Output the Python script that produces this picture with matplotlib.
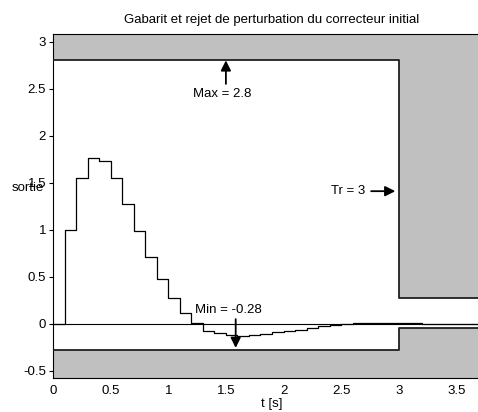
import matplotlib.pyplot as plt
import numpy as np

plt.rcParams['font.family'] = ['Liberation Sans', 'DejaVu Sans']

# sampled response (zero-order hold, Ts = 0.1 s)
t = np.round(np.arange(0, 3.9, 0.1), 2)
y = [0.0, 1.0, 1.55, 1.76, 1.73, 1.55, 1.27, 0.99, 0.71, 0.48,
     0.28, 0.12, 0.01, -0.08, -0.10, -0.12, -0.13, -0.12, -0.105, -0.09,
     -0.075, -0.06, -0.04, -0.02, -0.01, 0.0, 0.01, 0.01, 0.01, 0.01,
     0.01, 0.01, 0.0, 0.0, 0.0, 0.0, 0.0, 0.0, 0.0]

# template (gabarit)
t_r = 3.0
y_max = 2.8
y_min = -0.28
y_up_after = 0.28
y_low_after = -0.04

x_lim = (0, 3.8)
y_lim = (-0.575, 3.08)

fs = 9.5

fig = plt.figure(figsize=(4.78, 4.12), dpi=100)
ax = fig.add_axes([53 / 478, 1 - 378 / 412, (491 - 53) / 478, (378 - 34) / 412])
ax.set_xlim(*x_lim)
ax.set_ylim(*y_lim)

gray = '#c0c0c0'
upper_x = [0, t_r, t_r, x_lim[1]]
upper_y = [y_max, y_max, y_up_after, y_up_after]
lower_y = [y_min, y_min, y_low_after, y_low_after]
ax.fill_between(upper_x, upper_y, y_lim[1], color=gray, lw=0, zorder=1)
ax.fill_between(upper_x, lower_y, y_lim[0], color=gray, lw=0, zorder=1)
ax.plot(upper_x, upper_y, color='#202020', lw=1.3, zorder=3)
ax.plot(upper_x, lower_y, color='#202020', lw=1.3, zorder=3)

ax.axhline(0, color='black', lw=0.8, zorder=2)
ax.step(t, y, where='post', color='black', lw=0.9, zorder=4)

arrow = dict(arrowstyle='-|>', color='black', lw=1.3, mutation_scale=15, shrinkA=0, shrinkB=0)
ax.annotate('', xy=(1.5, y_max), xytext=(1.5, 2.55), arrowprops=arrow, zorder=5)
ax.text(1.47, 2.44, 'Max = 2.8', ha='center', va='center', fontsize=fs)
ax.annotate('', xy=(1.585, -0.255), xytext=(1.585, 0.05), arrowprops=arrow, zorder=5)
ax.text(1.52, 0.145, 'Min = -0.28', ha='center', va='center', fontsize=fs)
ax.annotate('', xy=(2.97, 1.41), xytext=(2.76, 1.41), arrowprops=arrow, zorder=5)
ax.text(2.56, 1.41, 'Tr = 3', ha='center', va='center', fontsize=fs)

ax.set_xticks([0, 0.5, 1, 1.5, 2, 2.5, 3, 3.5])
ax.set_xticklabels(['0', '0.5', '1', '1.5', '2', '2.5', '3', '3.5'])
ax.set_yticks([-0.5, 0, 0.5, 1, 1.5, 2, 2.5, 3])
ax.set_yticklabels(['-0.5', '0', '0.5', '1', '1.5', '2', '2.5', '3'])
ax.tick_params(axis='x', length=0, labelsize=fs, pad=5)
ax.tick_params(axis='y', direction='out', length=3, labelsize=fs, pad=2)
for s in ax.spines.values():
    s.set_linewidth(0.8)

ax.set_title('Gabarit et rejet de perturbation du correcteur initial', fontsize=fs, pad=8)
ax.set_xlabel('t [s]', fontsize=fs, labelpad=1)
fig.text(28 / 478, 1 - 188 / 412, 'sortie', ha='center', va='center', fontsize=fs)

fig.savefig('out.png', dpi=100)
